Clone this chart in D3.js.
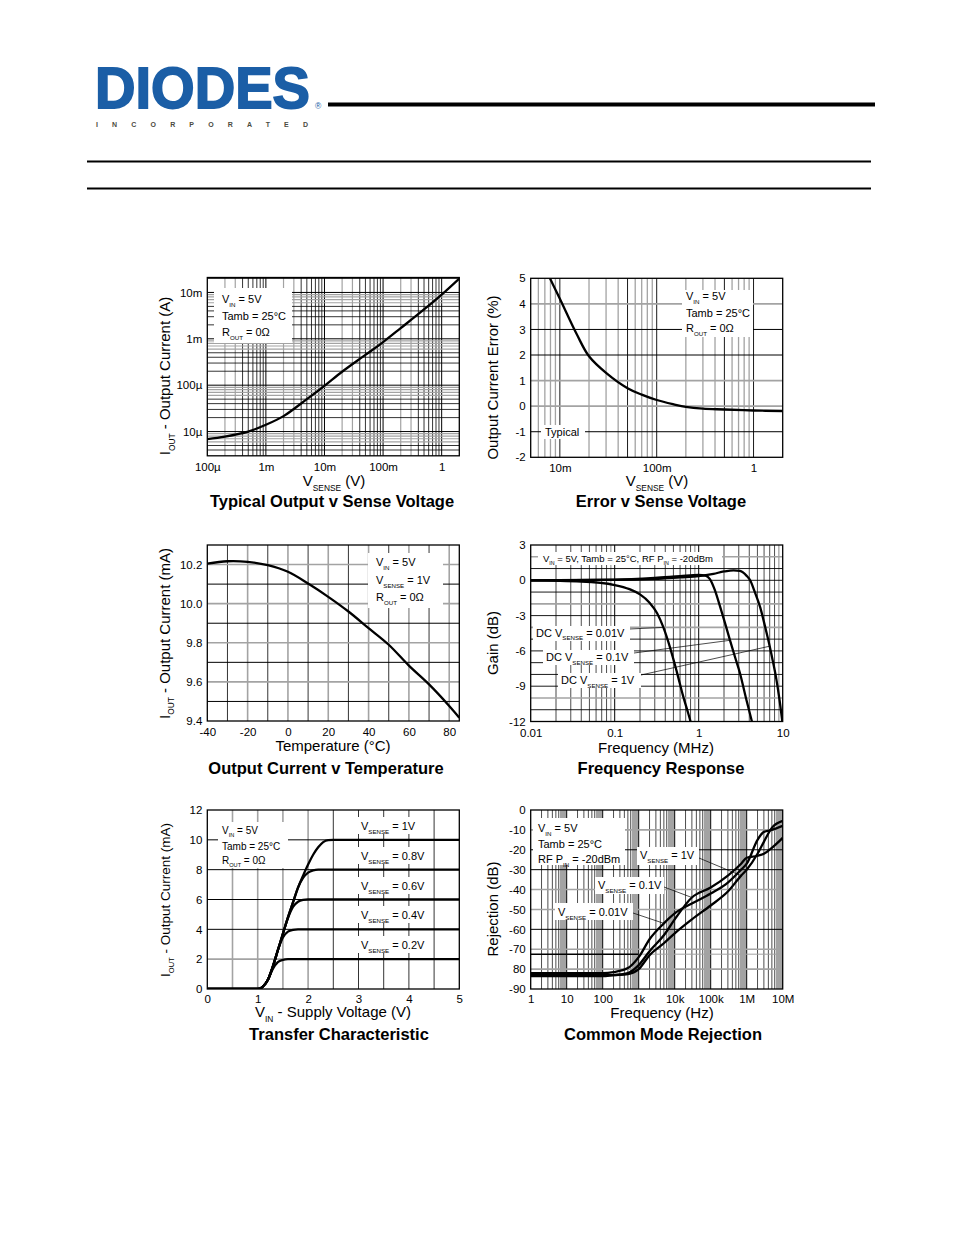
<!DOCTYPE html>
<html><head><meta charset="utf-8">
<script src="https://cdn.jsdelivr.net/npm/d3@7"></script>
<style>
body{margin:0;background:#fff}
svg{display:block}
text{font-family:"Liberation Sans",Arial,Helvetica,sans-serif;fill:#000}
</style>
</head><body><script>
// ================= DATA =================
// Chart 1: Typical Output v Sense Voltage
const c1Vsense = [1e-4,2e-4,5e-4,1e-3,2e-3,5e-3,1e-2,2e-2,5e-2,0.1,0.2,0.5,1,2];
const c1Iout   = [6.9e-6,7.8e-6,10e-6,14e-6,21.5e-6,50e-6,97e-6,195e-6,450e-6,0.85e-3,1.7e-3,4.3e-3,9e-3,20e-3];
const c1XTicks = [1e-4,1e-3,1e-2,0.1,1];
const c1XLabels = ["100µ","1m","10m","100m","1"];
const c1YTicks = [1e-5,1e-4,1e-3,1e-2];
const c1YLabels = ["10µ","100µ","1m","10m"];

// Chart 2: Error v Sense Voltage
const c2Vsense = [0.0079,0.01,0.015,0.02,0.03,0.05,0.07,0.1,0.15,0.2,0.3,0.5,1,2];
const c2Error  = [5,4.2,2.8,1.95,1.3,0.7,0.45,0.24,0.07,-0.03,-0.1,-0.13,-0.17,-0.19];
const c2XTicks = [0.01,0.1,1];
const c2XLabels = ["10m","100m","1"];
const c2YTicks = [-2,-1,0,1,2,3,4,5];

// Chart 3: Output Current v Temperature
const c3Temp = [-40,-30,-20,-10,0,10,20,30,40,50,60,70,80,85];
const c3Iout = [10.205,10.217,10.214,10.197,10.163,10.103,10.035,9.96,9.875,9.79,9.683,9.587,9.477,9.417];
const c3XTicks = [-40,-20,0,20,40,60,80];
const c3YTicks = [9.4,9.6,9.8,10.0,10.2];

// Chart 4: Frequency Response (MHz, dB)
const c4Freq001 = [0.01,0.04,0.1,0.15,0.2,0.26,0.32,0.38,0.46,0.55,0.65,0.75,0.8];
const c4Gain001 = [0,-0.1,-0.4,-0.75,-1.2,-1.9,-2.8,-4.0,-5.8,-7.8,-9.8,-11.3,-12];
const c4Freq01  = [0.01,0.1,0.3,0.6,1,1.2,1.36,1.55,1.79,2.05,2.36,2.7,3.1,3.65,4.3];
const c4Gain01  = [0,0.05,0.2,0.35,0.45,0.4,0.1,-0.8,-2.2,-3.6,-5.1,-6.5,-7.9,-10,-12];
const c4Freq1   = [0.01,0.1,0.3,0.6,1,1.5,2,2.6,3.1,3.7,4.1,4.6,5.4,6.2,7.0,7.7,8.4,9.1,9.9];
const c4Gain1   = [0,0.03,0.12,0.25,0.35,0.55,0.75,0.85,0.8,0.4,0,-0.9,-2.3,-4.0,-5.6,-7.0,-8.4,-10,-12];
const c4XTicks = [0.01,0.1,1,10];
const c4XLabels = ["0.01","0.1","1","10"];
const c4YTicks = [3,0,-3,-6,-9,-12];

// Chart 5: Transfer Characteristic
const c5Vin  = [0,1.0,1.1,1.2,1.3,1.4,1.5,1.6,1.7,1.8,1.9,2.0,2.1,2.2,2.3,2.4,2.5,5.0];
const c5I02  = [0,0,0.15,0.6,1.35,1.8,1.95,2,2,2,2,2,2,2,2,2,2,2];
const c5I04  = [0,0,0.15,0.6,1.5,2.6,3.45,3.85,3.97,4,4,4,4,4,4,4,4,4];
const c5I06  = [0,0,0.15,0.6,1.5,2.6,3.7,4.75,5.5,5.85,5.97,6,6,6,6,6,6,6];
const c5I08  = [0,0,0.15,0.6,1.5,2.6,3.7,4.8,5.8,6.8,7.45,7.8,7.95,8,8,8,8,8];
const c5I10  = [0,0,0.15,0.6,1.5,2.6,3.7,4.8,5.8,6.8,7.6,8.35,9.0,9.5,9.85,9.98,10,10];
const c5XTicks = [0,1,2,3,4,5];
const c5YTicks = [0,2,4,6,8,10,12];

// Chart 6: Common Mode Rejection (Hz, dB)
const c6Freq   = [1,10,100,200,500,1e3,2e3,5e3,1e4,3e4,1e5,3e5,7e5,1e6,2e6,3e6,5e6,1e7];
const c6Rej001 = [-82,-82,-82,-81.5,-79.5,-74,-65,-57,-52,-47,-42,-36.5,-30,-27,-15,-11,-10,-8];
const c6Rej01  = [-83,-83,-83,-83,-82,-78,-71,-63,-55,-44,-39,-33,-27,-24,-23,-22,-19,-14];
const c6Rej1   = [-83.5,-83.5,-83.5,-83,-82.5,-80,-73,-67,-62,-55,-48,-41,-33,-30,-22,-16,-9,-5.5];
const c6XTicks = [1,10,100,1e3,1e4,1e5,1e6,1e7];
const c6XLabels = ["1","10","100","1k","10k","100k","1M","10M"];
const c6YTicks = [0,-10,-20,-30,-40,-50,-60,-70,-80,-90];
const c6YLabels = ["0","-10","-20","-30","-40","-50","-60","-70","80","-90"];

// ================= DRAWING =================
const FONT = "Liberation Sans, Arial, Helvetica, sans-serif";
const GREY = "#a3a3a3";
const svg = d3.select("body").append("svg").attr("width",954).attr("height",1235);

// ---- header ----
const hdr = svg.append("g");
hdr.append("text").attr("x",95).attr("y",107.5).attr("font-family",FONT).attr("font-weight","bold")
  .attr("font-size",58).attr("textLength",215).attr("lengthAdjust","spacingAndGlyphs")
  .style("fill","#1b5ea6").attr("stroke","#1b5ea6").attr("stroke-width",1.8).text("DIODES");
hdr.append("text").attr("x",315).attr("y",109).attr("font-size",8.5).style("fill","#1b5ea6").text("®");
hdr.append("text").attr("x",96).attr("y",126.5).attr("font-size",7).attr("font-weight","bold")
  .attr("textLength",212).attr("lengthAdjust","spacing").style("fill","#4b4b3f").text("INCORPORATED");
hdr.append("line").attr("x1",328).attr("x2",875).attr("y1",104.5).attr("y2",104.5).attr("stroke","#000").attr("stroke-width",4);
hdr.append("line").attr("x1",87).attr("x2",871).attr("y1",161.5).attr("y2",161.5).attr("stroke","#000").attr("stroke-width",2);
hdr.append("line").attr("x1",87).attr("x2",871).attr("y1",188.5).attr("y2",188.5).attr("stroke","#000").attr("stroke-width",2);

// ---- helpers ----
function rich(parent,x,y,str,size,o={}){
  const t=parent.append("text").attr("x",x).attr("y",y).attr("font-size",size)
    .attr("text-anchor",o.anchor||"start");
  if(o.bold) t.attr("font-weight","bold");
  if(o.transform) t.attr("transform",o.transform);
  const parts=str.split(/(_\{[^}]*\})/).filter(s=>s.length);
  let cur=0; const off=size*(o.subOff||0.32);
  parts.forEach(s=>{
    const sub=s.startsWith("_{"); const txt=sub?s.slice(2,-1):s; const tgt=sub?off:0;
    const ts=t.append("tspan").text(txt);
    if(tgt!==cur) ts.attr("dy",tgt-cur);
    if(sub) ts.attr("font-size",size*(o.subScale||0.56));
    cur=tgt;
  });
  return t;
}
function logVals(d0,d1){
  const o=[];
  for(let e=Math.floor(Math.log10(d0));e<=Math.ceil(Math.log10(d1));e++)
    for(let k=1;k<=9;k++){const v=k*Math.pow(10,e); if(v>d0*1.0001&&v<d1*0.9999) o.push({v,k,e});}
  return o;
}
let clipN=0;
function panel(x0,y0,w,h,xs,ys){
  xs.range([0,w]); ys.range([h,0]);
  const g=svg.append("g").attr("transform",`translate(${x0},${y0})`);
  const id="clp"+(clipN++);
  g.append("clipPath").attr("id",id).append("rect").attr("width",w).attr("height",h);
  const grid=g.append("g");
  const ann=g.append("g").attr("transform",`translate(${-x0},${-y0})`);
  const plot=g.append("g").attr("clip-path",`url(#${id})`);
  const top=g.append("g");
  return {g,grid,ann,plot,top,xs,ys,w,h,x0,y0};
}
function vgrid(p,vals,style){
  vals.forEach(d=>{const s=style(d); if(!s) return;
    p.grid.append("line").attr("x1",p.xs(d.v)).attr("x2",p.xs(d.v)).attr("y1",0).attr("y2",p.h)
      .attr("stroke",s[0]).attr("stroke-width",s[1]);});
}
function hgrid(p,vals,style){
  vals.forEach(d=>{const s=style(d); if(!s) return;
    p.grid.append("line").attr("x1",0).attr("x2",p.w).attr("y1",p.ys(d.v)).attr("y2",p.ys(d.v))
      .attr("stroke",s[0]).attr("stroke-width",s[1]);});
}
function border(p){
  p.top.append("rect").attr("width",p.w).attr("height",p.h).attr("fill","none").attr("stroke","#000").attr("stroke-width",1.3);
}
function axes(p,xt,xl,yt,yl,opt={}){
  const fs=opt.fs||11.5;
  const ax=p.g.append("g").attr("transform",`translate(0,${p.h})`)
    .call(d3.axisBottom(p.xs).tickValues(xt).tickFormat((d,i)=>xl?xl[i]:d).tickSize(0).tickPadding(opt.xpad||7));
  ax.select(".domain").remove();
  ax.attr("font-size",fs).attr("font-family",FONT);
  const ay=p.g.append("g")
    .call(d3.axisLeft(p.ys).tickValues(yt).tickFormat((d,i)=>yl?yl[i]:d).tickSize(0).tickPadding(opt.ypad||5));
  ay.select(".domain").remove();
  ay.attr("font-size",fs).attr("font-family",FONT);
}
function curve(p,xs,ys,w,cf){
  const pts=xs.map((x,i)=>[x,ys[i]]);
  p.plot.append("path").datum(pts).attr("fill","none").attr("stroke","#000").attr("stroke-width",w||2.2)
    .attr("stroke-linejoin","round")
    .attr("d",d3.line().x(d=>p.xs(d[0])).y(d=>p.ys(d[1])).curve(cf||d3.curveMonotoneX));
}
function wbox(p,x,y,w,h){ p.ann.append("rect").attr("x",x).attr("y",y).attr("width",w).attr("height",h).attr("fill","#fff"); }
function leader(p,x,y,fx,fy){
  p.ann.append("line").attr("x1",x).attr("y1",y).attr("x2",p.x0+p.xs(fx)).attr("y2",p.y0+p.ys(fy))
    .attr("stroke","#000").attr("stroke-width",0.7);
}
const smooth = d3.curveCatmullRom.alpha(0.5);

// ============ Chart 1 ============
{
  const p=panel(207.3,277.5,252,178.3,d3.scaleLog().domain([1e-4,2]),d3.scaleLog().domain([3e-6,2.1e-2]));
  vgrid(p,logVals(1e-4,2),d=>d.k===1?["#000",1]:(d.k<=3?[GREY,1.2]:["#000",0.8]));
  hgrid(p,logVals(3e-6,2.1e-2),d=>d.k===1?["#000",1]:(d.k<=5?["#000",0.8]:[GREY,1.2]));
  wbox(p,214,288,78,55);
  rich(p.ann,222,303,"V_{IN} = 5V",11);
  rich(p.ann,222,320,"Tamb = 25°C",11);
  rich(p.ann,222,336,"R_{OUT} = 0Ω",11);
  curve(p,c1Vsense,c1Iout,2.3,smooth);
  border(p);
  axes(p,c1XTicks,c1XLabels,c1YTicks,c1YLabels);
  rich(svg,334,486,"V_{SENSE} (V)",15,{anchor:"middle"});
  rich(svg,332,507,"Typical Output v Sense Voltage",16.5,{anchor:"middle",bold:true});
  rich(svg,0,0,"I_{OUT} - Output Current (A)",15,{anchor:"middle",transform:"translate(170,376) rotate(-90)"});
}

// ============ Chart 2 ============
{
  const p=panel(530.7,278.3,252,179,d3.scaleLog().domain([5e-3,2]),d3.scaleLinear().domain([-2,5]));
  vgrid(p,logVals(5e-3,2),d=>(d.k===5||d.k===1)?["#000",0.9]:[GREY,1.3]);
  const hc={4:GREY,3:"#000",2:"#000",1:GREY,0:GREY,"-1":"#000"};
  hgrid(p,[-1,0,1,2,3,4].map(v=>({v})),d=>[hc[d.v],hc[d.v]===GREY?1.6:1]);
  wbox(p,682,290,71,47);
  rich(p.ann,686,300,"V_{IN} = 5V",11);
  rich(p.ann,686,317,"Tamb = 25°C",11);
  rich(p.ann,686,332,"R_{OUT} = 0Ω",11);
  wbox(p,541,425,44,14);
  rich(p.ann,545,435.5,"Typical",11);
  curve(p,c2Vsense,c2Error,2.3,smooth);
  border(p);
  axes(p,c2XTicks,c2XLabels,c2YTicks,null);
  rich(svg,657,486,"V_{SENSE} (V)",15,{anchor:"middle"});
  rich(svg,661,507,"Error v Sense Voltage",16.5,{anchor:"middle",bold:true});
  rich(svg,0,0,"Output Current Error (%)",15,{anchor:"middle",transform:"translate(497.5,377.5) rotate(-90)"});
}

// ============ Chart 3 ============
{
  const p=panel(207.3,545,252,176,d3.scaleLinear().domain([-40,85]),d3.scaleLinear().domain([9.4,10.3]));
  vgrid(p,d3.range(-30,81,10).map(v=>({v})),d=>(Math.abs(d.v)%20===0)?[GREY,1.6]:["#000",0.8]);
  hgrid(p,d3.range(95,103).map(v=>({v:v/10})),d=>(Math.round(d.v*10)%2===0)?[GREY,1.6]:["#000",1]);
  wbox(p,368,553,75,55);
  rich(p.ann,376,566,"V_{IN} = 5V",11);
  rich(p.ann,376,584,"V_{SENSE} = 1V",11);
  rich(p.ann,376,601,"R_{OUT} = 0Ω",11);
  curve(p,c3Temp,c3Iout,2.3,smooth);
  border(p);
  axes(p,c3XTicks,null,c3YTicks,c3YTicks.map(d=>d3.format(".1f")(d)));
  rich(svg,333,751,"Temperature (°C)",15,{anchor:"middle"});
  rich(svg,326,774,"Output Current v Temperature",16.5,{anchor:"middle",bold:true});
  rich(svg,0,0,"I_{OUT} - Output Current (mA)",15,{anchor:"middle",transform:"translate(169.5,633.5) rotate(-90)"});
}

// ============ Chart 4 ============
{
  const p=panel(530.7,545,252,176.5,d3.scaleLog().domain([0.01,10]),d3.scaleLinear().domain([-12,3]));
  vgrid(p,logVals(0.01,10),d=>d.k===1?["#000",1]:(d.k===2?[GREY,2]:(d.k===9?[GREY,1.3]:["#000",0.7])));
  const greyH=[2,-2,-4,-10];
  hgrid(p,d3.range(-11,3).map(v=>({v})),d=>greyH.includes(d.v)?[GREY,1.6]:["#000",0.9]);
  wbox(p,538,552,184,13);
  rich(p.ann,543,562,"V_{IN} = 5V, Tamb = 25°C, RF P_{IN} = -20dBm",9.5);
  wbox(p,533,626,97,15);
  rich(p.ann,536,636.5,"DC V_{SENSE} = 0.01V",11);
  wbox(p,543,650,91,15);
  rich(p.ann,546,661,"DC V_{SENSE} = 0.1V",11);
  wbox(p,558,673,83,15);
  rich(p.ann,561,684,"DC V_{SENSE} = 1V",11);
  leader(p,630,629,c4Freq001[7],c4Gain001[7]);
  leader(p,634,653,c4Freq01[10],c4Gain01[10]);
  leader(p,641,675,c4Freq1[14],c4Gain1[14]);
  curve(p,c4Freq001,c4Gain001,2.3);
  curve(p,c4Freq01,c4Gain01,2.3);
  curve(p,c4Freq1,c4Gain1,2.3);
  border(p);
  axes(p,c4XTicks,c4XLabels,c4YTicks,null);
  rich(svg,656,753,"Frequency (MHz)",15,{anchor:"middle"});
  rich(svg,661,774,"Frequency Response",16.5,{anchor:"middle",bold:true});
  rich(svg,0,0,"Gain (dB)",15,{anchor:"middle",transform:"translate(497.5,643) rotate(-90)"});
}

// ============ Chart 5 ============
{
  const p=panel(207.3,810,252,179,d3.scaleLinear().domain([0,5]),d3.scaleLinear().domain([0,12]));
  vgrid(p,d3.range(1,10).map(v=>({v:v/2})),d=>d.v<=2?[GREY,1.6]:["#000",0.8]);
  hgrid(p,[2,4,6,8,10].map(v=>({v})),d=>d.v===2?[GREY,1.6]:["#000",1]);
  wbox(p,218,822,70,46);
  rich(p.ann,222,834,"V_{IN} = 5V",10);
  rich(p.ann,222,850,"Tamb = 25°C",10);
  rich(p.ann,222,864,"R_{OUT} = 0Ω",10);
  const lab=[["V_{SENSE} = 1V",826],["V_{SENSE} = 0.8V",856],["V_{SENSE} = 0.6V",886],["V_{SENSE} = 0.4V",915],["V_{SENSE} = 0.2V",945]];
  lab.forEach(([s,c])=>{ wbox(p,357,c-9,76,17); rich(p.ann,361,c+4,s,11); });
  [c5I02,c5I04,c5I06,c5I08,c5I10].forEach(s=>curve(p,c5Vin,s,2.3));
  border(p);
  axes(p,c5XTicks,null,c5YTicks,null,{xpad:6});
  rich(svg,333,1017,"V_{IN} - Supply Voltage (V)",15,{anchor:"middle"});
  rich(svg,339,1040,"Transfer Characteristic",16.5,{anchor:"middle",bold:true});
  rich(svg,0,0,"I_{OUT} - Output Current (mA)",13.5,{anchor:"middle",transform:"translate(170,900) rotate(-90)"});
}

// ============ Chart 6 ============
{
  const p=panel(530.7,810,252,179,d3.scaleLog().domain([1,1e7]),d3.scaleLinear().domain([-90,0]));
  vgrid(p,logVals(1,1e7),d=>d.k===1?["#000",1]:(d.k>=7?[GREY,2.4]:["#000",0.7]));
  const blackH=[-20,-30,-60];
  hgrid(p,d3.range(-80,-9,10).map(v=>({v})),d=>blackH.includes(d.v)?["#000",1]:[GREY,1.6]);
  p.grid.append("line").attr("x1",0).attr("x2",p.xs(1e3)).attr("y1",p.ys(-72.5)).attr("y2",p.ys(-72.5)).attr("stroke","#000").attr("stroke-width",1.4);
  p.grid.append("line").attr("x1",p.xs(1e3)).attr("x2",p.w).attr("y1",p.ys(-72.5)).attr("y2",p.ys(-72.5)).attr("stroke",GREY).attr("stroke-width",1);
  wbox(p,533,818,92,47);
  rich(p.ann,538,832,"V_{IN} = 5V",11);
  rich(p.ann,538,848,"Tamb = 25°C",11);
  rich(p.ann,538,863,"RF P_{IN} = -20dBm",11);
  wbox(p,637,847,62,18);
  rich(p.ann,640,859,"V_{SENSE} = 1V",11);
  wbox(p,595,877,69,17);
  rich(p.ann,598,889,"V_{SENSE} = 0.1V",11);
  wbox(p,555,903,78,17);
  rich(p.ann,558,916,"V_{SENSE} = 0.01V",11);
  leader(p,699,858,c6Freq[12],c6Rej1[12]);
  leader(p,664,887,c6Freq[9],c6Rej01[9]);
  leader(p,633,913,c6Freq[7],c6Rej001[7]);
  curve(p,c6Freq,c6Rej001,2.3);
  curve(p,c6Freq,c6Rej01,2.3);
  curve(p,c6Freq,c6Rej1,2.3);
  border(p);
  axes(p,c6XTicks,c6XLabels,c6YTicks,c6YLabels,{xpad:6});
  rich(svg,662,1018,"Frequency (Hz)",15,{anchor:"middle"});
  rich(svg,663,1040,"Common Mode Rejection",16.5,{anchor:"middle",bold:true});
  rich(svg,0,0,"Rejection (dB)",15,{anchor:"middle",transform:"translate(497.5,909) rotate(-90)"});
}
</script></body></html>
